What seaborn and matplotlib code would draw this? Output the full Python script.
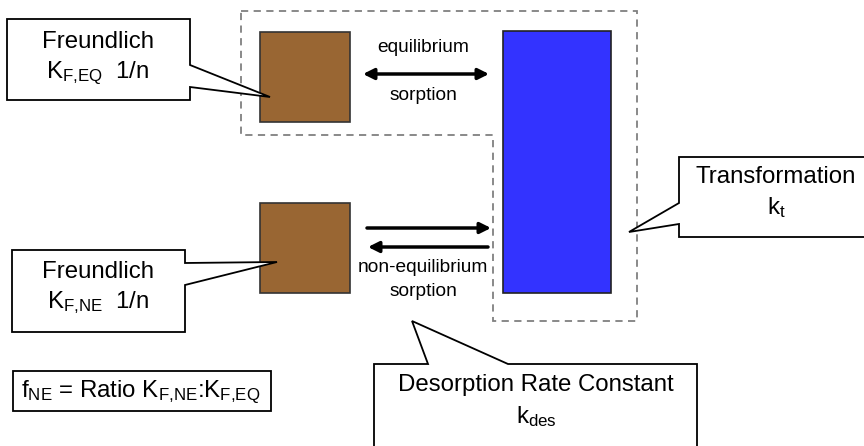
import matplotlib
matplotlib.use("Agg")
import matplotlib.pyplot as plt
import seaborn as sns
from matplotlib.patches import Polygon, Rectangle

sns.set_theme(style="white")
plt.rcParams["font.family"] = ["Liberation Sans", "DejaVu Sans"]
plt.rcParams["text.color"] = "black"
plt.rcParams["mathtext.fontset"] = "custom"
plt.rcParams["mathtext.rm"] = "Liberation Sans"
plt.rcParams["mathtext.it"] = "Liberation Sans:italic"

# labels
freundlich_eq = ["Freundlich", r"K$_\mathregular{F{,}EQ}$  1/n"]
freundlich_ne = ["Freundlich", r"K$_\mathregular{F{,}NE}$  1/n"]
ratio_label = r"f$_\mathregular{NE}$ = Ratio K$_\mathregular{F{,}NE}$:K$_\mathregular{F{,}EQ}$"
desorption = ["Desorption Rate Constant", r"k$_\mathregular{des}$"]
transformation = ["Transformation", r"k$_\mathregular{t}$"]
eq_arrow_labels = ["equilibrium", "sorption"]
ne_arrow_labels = ["non-equilibrium", "sorption"]

brown = "#996633"
blue = "#3333FF"

fig = plt.figure(figsize=(8.64, 4.46), dpi=100)
ax = fig.add_axes([0, 0, 1, 1])
ax.set_xlim(0, 864)
ax.set_ylim(446, 0)
ax.axis("off")

# dashed outline of the equilibrium domain
dash = [(241, 11), (637, 11), (637, 321), (493, 321), (493, 135), (241, 135)]
ax.add_patch(Polygon(dash, closed=True, fill=False, edgecolor="#808080",
                     lw=1.3, ls=(0, (4, 3))))

# compartments
for y0 in [32, 203]:
    ax.add_patch(Rectangle((260, y0), 90, 90, facecolor=brown,
                           edgecolor="#333333", lw=1.2))
ax.add_patch(Rectangle((503, 31), 108, 262, facecolor=blue,
                       edgecolor="#222222", lw=1.2))

# arrows
ax.annotate("", xy=(489, 74), xytext=(363, 74),
            arrowprops=dict(arrowstyle="<|-|>", color="black", lw=2.5,
                            mutation_scale=16, shrinkA=0, shrinkB=0))
ax.annotate("", xy=(491, 228), xytext=(367, 228),
            arrowprops=dict(arrowstyle="-|>", color="black", lw=2.5,
                            mutation_scale=16, shrinkA=0, shrinkB=0))
ax.annotate("", xy=(368, 247), xytext=(488, 247),
            arrowprops=dict(arrowstyle="-|>", color="black", lw=2.5,
                            mutation_scale=16, shrinkA=0, shrinkB=0))

small = 13.8
ax.text(423, 47, eq_arrow_labels[0], ha="center", va="center", fontsize=small)
ax.text(423, 96, eq_arrow_labels[1], ha="center", va="center", fontsize=small)
ax.text(423, 267, ne_arrow_labels[0], ha="center", va="center", fontsize=small)
ax.text(423, 291, ne_arrow_labels[1], ha="center", va="center", fontsize=small)

# callouts
callout_kw = dict(closed=True, facecolor="white", edgecolor="black", lw=1.3)
ax.add_patch(Polygon([(7, 19), (190, 19), (190, 65), (270, 97), (190, 87),
                      (190, 100), (7, 100)], **callout_kw))
ax.add_patch(Polygon([(12, 250), (185, 250), (185, 263), (277, 262),
                      (185, 285), (185, 332), (12, 332)], **callout_kw))
ax.add_patch(Rectangle((13, 371), 258, 40, facecolor="white",
                       edgecolor="black", lw=1.3))
ax.add_patch(Polygon([(374, 447), (374, 364), (428, 364), (412, 321),
                      (508, 364), (697, 364), (697, 447)], **callout_kw))
ax.add_patch(Polygon([(880, 157), (679, 157), (679, 203), (629, 232),
                      (679, 224), (679, 237), (880, 237)], **callout_kw))

big = 17.3
ax.text(98, 42, freundlich_eq[0], ha="center", va="center", fontsize=big)
ax.text(98, 73, freundlich_eq[1], ha="center", va="center", fontsize=big)
ax.text(98, 272, freundlich_ne[0], ha="center", va="center", fontsize=big)
ax.text(98, 303, freundlich_ne[1], ha="center", va="center", fontsize=big)
ax.text(141, 392, ratio_label, ha="center", va="center", fontsize=big)
ax.text(536, 385, desorption[0], ha="center", va="center", fontsize=big)
ax.text(536, 417, desorption[1], ha="center", va="center", fontsize=big)
ax.text(776, 177, transformation[0], ha="center", va="center", fontsize=big)
ax.text(776, 208, transformation[1], ha="center", va="center", fontsize=big)

fig.savefig("out.png", dpi=100)
